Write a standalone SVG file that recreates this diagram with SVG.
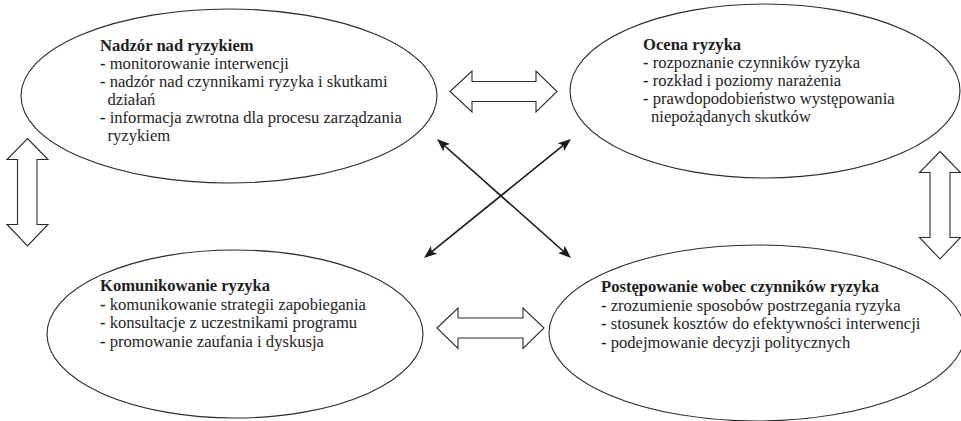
<svg xmlns="http://www.w3.org/2000/svg" width="961" height="421" viewBox="0 0 961 421">
<style>
.bg{fill:#ffffff}
.ell{fill:#ffffff;stroke:#2b2b2b;stroke-width:1.1}
.blk{fill:#ffffff;stroke:#2b2b2b;stroke-width:1.1;stroke-linejoin:miter}
.diag{stroke:#1a1a1a;stroke-width:1.6;fill:none}
text{font-family:"Liberation Serif","Times New Roman",serif;font-size:16.6px;fill:#1e1e1e}
.t{font-weight:bold}
.d{font-weight:bold}
</style>
<defs>
<marker id="ah" viewBox="0 0 13 10" markerUnits="userSpaceOnUse" markerWidth="13" markerHeight="10" refX="10" refY="5" orient="auto-start-reverse">
<path d="M0,0 L13,5 L0,10 L3,5 z" fill="#1a1a1a"/>
</marker>
</defs>
<rect class="bg" x="0" y="0" width="961" height="421"/>

<g id="node-nadzor">
<ellipse class="ell" cx="229" cy="96" rx="208" ry="87"/>
<text x="100" y="50.5" class="t">Nadzór nad ryzykiem</text>
<text x="100" y="68.5"><tspan class="d">-</tspan> monitorowanie interwencji</text>
<text x="100" y="86.5"><tspan class="d">-</tspan> nadzór nad czynnikami ryzyka i skutkami</text>
<text x="107.5" y="104.5">działań</text>
<text x="100" y="122.5"><tspan class="d">-</tspan> informacja zwrotna dla procesu zarządzania</text>
<text x="107.5" y="140.5">ryzykiem</text>
</g>

<g id="node-ocena">
<ellipse class="ell" cx="765" cy="91" rx="195" ry="87"/>
<text x="643" y="50" class="t">Ocena ryzyka</text>
<text x="643" y="68"><tspan class="d">-</tspan> rozpoznanie czynników ryzyka</text>
<text x="643" y="86"><tspan class="d">-</tspan> rozkład i poziomy narażenia</text>
<text x="643" y="104"><tspan class="d">-</tspan> prawdopodobieństwo występowania</text>
<text x="651" y="122">niepożądanych skutków</text>
</g>

<g id="node-komunikowanie">
<ellipse class="ell" cx="235" cy="334" rx="188" ry="84"/>
<text x="100" y="291" class="t">Komunikowanie ryzyka</text>
<text x="100" y="309.5"><tspan class="d">-</tspan> komunikowanie strategii zapobiegania</text>
<text x="100" y="328"><tspan class="d">-</tspan> konsultacje z uczestnikami programu</text>
<text x="100" y="346.5"><tspan class="d">-</tspan> promowanie zaufania i dyskusja</text>
</g>

<g id="node-postepowanie">
<ellipse class="ell" cx="757" cy="333" rx="208" ry="88"/>
<text x="601" y="292" class="t">Postępowanie wobec czynników ryzyka</text>
<text x="601" y="310.5"><tspan class="d">-</tspan> zrozumienie sposobów postrzegania ryzyka</text>
<text x="601" y="329"><tspan class="d">-</tspan> stosunek kosztów do efektywności interwencji</text>
<text x="601" y="347.5"><tspan class="d">-</tspan> podejmowanie decyzji politycznych</text>
</g>

<g id="connectors">
<polygon class="blk" points="450,91.5 472,71 472,81.5 536,81.5 536,71 557,91.5 536,112 536,101.5 472,101.5 472,112"/>
<polygon class="blk" points="437,328 458,308 458,318 523,318 523,308 544,328 523,348.5 523,338 458,338 458,348.5"/>
<polygon class="blk" points="27.5,138.5 48,159.5 37,159.5 37,224.5 48,224.5 27.5,246 7,224.5 17.5,224.5 17.5,159.5 7,159.5"/>
<polygon class="blk" points="940,151.5 960.5,172.5 950,172.5 950,237.5 960.5,237.5 940,259 919.5,237.5 930,237.5 930,172.5 919.5,172.5"/>
<line class="diag" x1="439.2" y1="141" x2="568.8" y2="256" marker-start="url(#ah)" marker-end="url(#ah)"/>
<line class="diag" x1="568.7" y1="140.9" x2="426.3" y2="256.1" marker-start="url(#ah)" marker-end="url(#ah)"/>
</g>
</svg>
